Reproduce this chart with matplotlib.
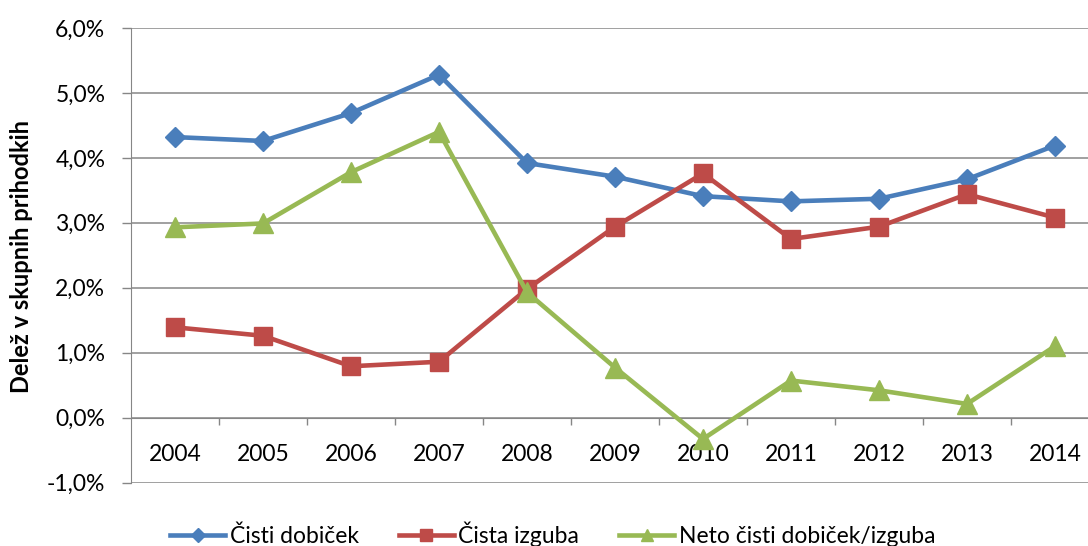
import matplotlib
matplotlib.use("Agg")
import matplotlib.pyplot as plt
from matplotlib.ticker import FuncFormatter

years = ["2004", "2005", "2006", "2007", "2008", "2009", "2010", "2011", "2012", "2013", "2014"]
cisti_dobicek = [4.32, 4.26, 4.69, 5.28, 3.92, 3.71, 3.41, 3.33, 3.37, 3.67, 4.19]
cista_izguba = [1.39, 1.26, 0.79, 0.86, 1.98, 2.94, 3.76, 2.75, 2.94, 3.44, 3.08]
neto = [2.93, 2.99, 3.78, 4.40, 1.93, 0.77, -0.33, 0.57, 0.42, 0.21, 1.10]

labels = ["Čisti dobiček", "Čista izguba", "Neto čisti dobiček/izguba"]
colors = ["#4A7EBB", "#BE4B48", "#98B954"]

plt.rcParams["font.family"] = ["Lato", "DejaVu Sans"]

fig = plt.figure(figsize=(10.88, 5.46), dpi=100)
ax = fig.add_axes([131 / 1088, 63.5 / 546, 968 / 1088, 454.5 / 546])

x = list(range(len(years)))
ax.plot(x, cisti_dobicek, color=colors[0], lw=3.3, marker="D", ms=10.5, label=labels[0], clip_on=False, zorder=3)
ax.plot(x, cista_izguba, color=colors[1], lw=3.3, marker="s", ms=13.5, label=labels[1], clip_on=False, zorder=4)
ax.plot(x, neto, color=colors[2], lw=3.3, marker="^", ms=14, label=labels[2], clip_on=False, zorder=5)

ax.set_xlim(-0.5, len(years) - 0.5)
ax.set_ylim(-1, 6)
ax.set_yticks(range(-1, 7))
ax.yaxis.set_major_formatter(FuncFormatter(lambda v, p: f"{v:.1f}%".replace(".", ",")))
ax.grid(axis="y", color="#868686", lw=1.1, zorder=0)
ax.set_axisbelow(True)

ax.set_xticks(x)
ax.set_xticklabels(years)
ax.set_xticks([i + 0.5 for i in x[:-1]], minor=True)
ax.tick_params(axis="x", which="major", length=0, pad=19, labelsize=16.5)
ax.tick_params(axis="x", which="minor", length=5, width=1, color="#868686", direction="out")
ax.tick_params(axis="y", length=6.5, width=1, color="#868686", pad=12, labelsize=16.5)

for s in ["top", "right"]:
    ax.spines[s].set_visible(False)
ax.spines["bottom"].set_position(("data", 0))
ax.spines["bottom"].set_color("#868686")
ax.spines["left"].set_color("#868686")

fig.text(0.02, 0.531, "Delež v skupnih prihodkih", rotation=90, va="center", ha="center",
         fontsize=17, fontweight="bold")

fig.legend(loc="center", bbox_to_anchor=(0.508, 0.021), ncol=3, frameon=False, fontsize=16.5,
           handlelength=2.4, columnspacing=1.75, handletextpad=0.2, markerscale=0.65)

fig.savefig("out.png", dpi=100)
